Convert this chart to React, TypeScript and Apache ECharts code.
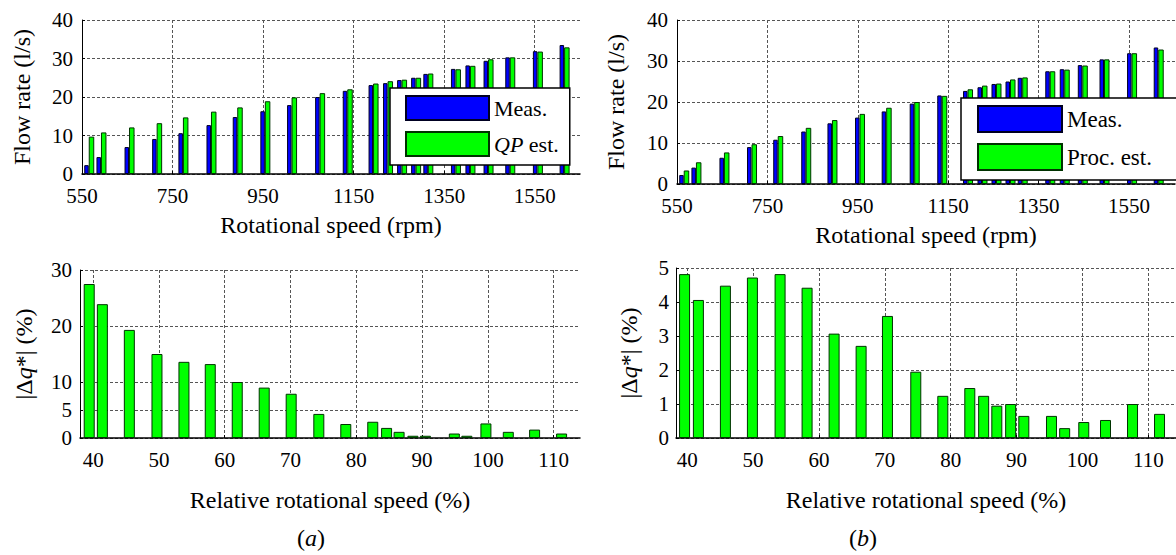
import React, { useEffect, useRef } from 'react';
import * as echarts from 'echarts';

// Rotational speeds (rpm) of the measured operating points
const rotSpeeds = [566, 593, 655, 716, 774, 836, 894, 955, 1014, 1076, 1137, 1194, 1226, 1257, 1288, 1315, 1376, 1408, 1448, 1496, 1557, 1616];

// (a) flow rates (l/s)
const measA = [2.3, 4.4, 7.0, 9.1, 10.6, 12.7, 14.8, 16.3, 17.9, 20.0, 21.6, 23.1, 23.6, 24.4, 25.0, 26.0, 27.3, 28.2, 29.4, 30.3, 31.9, 33.5];
const qpEst = [9.7, 10.8, 12.1, 13.2, 14.7, 16.2, 17.3, 18.9, 19.9, 21.0, 22.0, 23.5, 24.1, 24.5, 25.0, 26.1, 27.2, 28.1, 29.8, 30.3, 31.8, 32.9];

// (b) flow rates (l/s)
const measB = [2.2, 4.0, 6.4, 9.0, 10.8, 12.8, 14.8, 16.2, 17.7, 19.6, 21.6, 22.7, 23.6, 24.4, 25.0, 25.9, 27.5, 28.0, 29.0, 30.4, 31.9, 33.3];
const procEst = [3.3, 5.3, 7.7, 9.7, 11.7, 13.7, 15.6, 17.1, 18.6, 20.0, 21.5, 23.1, 24.0, 24.5, 25.5, 26.0, 27.5, 27.9, 28.9, 30.4, 31.9, 32.8];

// Relative rotational speeds (%)
const relSpeedA = [39.4, 41.4, 45.5, 49.7, 53.8, 57.8, 61.9, 66.0, 70.1, 74.3, 78.4, 82.5, 84.6, 86.5, 88.6, 90.5, 94.9, 96.8, 99.7, 103.1, 107.1, 111.2];
const relSpeedB = [39.6, 41.7, 45.8, 49.9, 54.1, 58.2, 62.3, 66.4, 70.4, 74.7, 78.8, 82.9, 85.0, 87.0, 89.1, 91.1, 95.3, 97.3, 100.2, 103.5, 107.6, 111.7];

// |Δq*| (%)
const errA = [27.5, 23.9, 19.3, 15.0, 13.6, 13.2, 10.0, 9.0, 7.9, 4.3, 2.5, 2.9, 1.8, 1.1, 0.4, 0.4, 0.8, 0.4, 2.6, 1.1, 1.5, 0.8];
const errB = [4.82, 4.06, 4.48, 4.72, 4.82, 4.42, 3.07, 2.71, 3.59, 1.95, 1.24, 1.47, 1.24, 0.95, 1.0, 0.65, 0.65, 0.29, 0.47, 0.53, 1.0, 0.71];

// Tick labels
const rpmTicks = [550, 750, 950, 1150, 1350, 1550];
const relTicks = [40, 50, 60, 70, 80, 90, 100, 110];
const errATicks = [0, 5, 10, 20, 30];
const errBTicks = [0, 1, 2, 3, 4, 5];
const flowTicks = [0, 10, 20, 30, 40];

const FONT = 'Liberation Serif';
const BLUE = '#0000ff';
const GREEN = '#00ff00';

const pairs = (xs: number[], ys: number[]) => xs.map((x, i) => [x, ys[i]]);

const gridLine = { show: true, lineStyle: { color: '#555', width: 1, type: [3, 2] as any } };
const tickLabel = { color: '#000', fontFamily: FONT, fontSize: 21, formatter: (v: number) => String(v) };
const italic = { fontStyle: 'italic', fontFamily: FONT, fontSize: 24, color: '#000' };
const nameStyle = {
  color: '#000',
  fontFamily: FONT,
  fontSize: 24,
  rich: { i: italic },
};

function xAxisDef(gridIndex: number, min: number, max: number, ticks: number[], name: string, nameGap: number) {
  return {
    type: 'value',
    gridIndex,
    min,
    max,
    name,
    nameLocation: 'middle',
    nameGap,
    nameTextStyle: nameStyle,
    axisLine: { show: true, onZero: false, lineStyle: { color: '#000', width: 1.5 } },
    axisTick: { show: true, inside: true, length: 3, customValues: ticks, lineStyle: { color: '#000' } },
    axisLabel: { ...tickLabel, margin: 11, customValues: ticks },
    splitLine: gridLine,
  };
}

function yAxisDef(gridIndex: number, min: number, max: number, ticks: number[], name: string, nameGap: number, margin: number) {
  return {
    type: 'value',
    gridIndex,
    min,
    max,
    name,
    nameLocation: 'middle',
    nameRotate: 90,
    nameGap,
    nameTextStyle: nameStyle,
    axisLine: { show: true, lineStyle: { color: '#000', width: 1 } },
    axisTick: { show: true, inside: true, length: 3, customValues: ticks, lineStyle: { color: '#000' } },
    axisLabel: { ...tickLabel, margin, customValues: ticks },
    splitLine: gridLine,
  };
}

const blueStyle = { color: BLUE, borderColor: '#000022', borderWidth: 1 };
const greenStyle = { color: GREEN, borderColor: '#003300', borderWidth: 1 };

const option: any = {
  animation: false,
  backgroundColor: '#fff',
  textStyle: { fontFamily: FONT },
  grid: [
    { left: 82, top: 20, width: 498, height: 154, outerBoundsMode: 'none' },
    { left: 677, top: 20, width: 498, height: 164, outerBoundsMode: 'none' },
    { left: 80, top: 270, width: 500, height: 168, outerBoundsMode: 'none' },
    { left: 676, top: 268, width: 500, height: 170, outerBoundsMode: 'none' },
  ],
  xAxis: [
    xAxisDef(0, 550, 1650, rpmTicks, 'Rotational speed (rpm)', 39),
    xAxisDef(1, 550, 1652, rpmTicks, 'Rotational speed (rpm)', 39),
    xAxisDef(2, 38, 114, relTicks, 'Relative rotational speed (%)', 50),
    xAxisDef(3, 38.3, 114.2, relTicks, 'Relative rotational speed (%)', 50),
  ],
  yAxis: [
    yAxisDef(0, 0, 40, flowTicks, 'Flow rate (l/s)', 48, 9),
    yAxisDef(1, 0, 40, flowTicks, 'Flow rate (l/s)', 49, 9),
    yAxisDef(2, 0, 30, errATicks, '|Δ{i|q}*| (%)', 44, 8),
    yAxisDef(3, 0, 5, errBTicks, '|Δ{i|q}*| (%)', 35, 7),
  ],
  legend: [
    {
      data: ['Meas.', 'QP est.'],
      left: 390,
      top: 88,
      orient: 'vertical',
      itemWidth: 83,
      itemHeight: 24,
      itemGap: 10,
      padding: [7, 11, 8, 15],
      borderColor: '#000',
      borderWidth: 1.5,
      backgroundColor: '#fff',
      selectedMode: false,
      icon: 'rect',
      textStyle: {
        color: '#000',
        fontFamily: FONT,
        fontSize: 22,
        rich: { i: { fontStyle: 'italic', fontFamily: FONT, fontSize: 22, color: '#000' } },
      },
      formatter: (n: string) => (n === 'QP est.' ? '{i|QP} est.' : n),
      z: 10,
    },
    {
      data: ['Meas.', 'Proc. est.'],
      left: 961,
      top: 98,
      orient: 'vertical',
      itemWidth: 84,
      itemHeight: 26,
      itemGap: 10,
      padding: [7, 30, 9, 16],
      borderColor: '#000',
      borderWidth: 1.5,
      backgroundColor: '#fff',
      selectedMode: false,
      icon: 'rect',
      textStyle: { color: '#000', fontFamily: FONT, fontSize: 23 },
      z: 10,
    },
  ],
  series: [
    {
      type: 'bar', name: 'Meas.', xAxisIndex: 0, yAxisIndex: 0,
      data: pairs(rotSpeeds, measA), barWidth: 4.5, barGap: '0%', itemStyle: blueStyle,
    },
    {
      type: 'bar', name: 'QP est.', xAxisIndex: 0, yAxisIndex: 0,
      data: pairs(rotSpeeds, qpEst), barWidth: 5.5, barGap: '0%', itemStyle: greenStyle,
    },
    {
      type: 'bar', name: 'Meas.', xAxisIndex: 1, yAxisIndex: 1,
      data: pairs(rotSpeeds, measB), barWidth: 4.5, barGap: '0%', itemStyle: blueStyle,
    },
    {
      type: 'bar', name: 'Proc. est.', xAxisIndex: 1, yAxisIndex: 1,
      data: pairs(rotSpeeds, procEst), barWidth: 5.5, barGap: '0%', itemStyle: greenStyle,
    },
    {
      type: 'bar', name: 'errA', xAxisIndex: 2, yAxisIndex: 2,
      data: pairs(relSpeedA, errA), barWidth: 11, itemStyle: greenStyle,
    },
    {
      type: 'bar', name: 'errB', xAxisIndex: 3, yAxisIndex: 3,
      data: pairs(relSpeedB, errB), barWidth: 11, itemStyle: greenStyle,
    },
  ],
  graphic: [
    {
      type: 'text', left: 297, top: 526,
      style: {
        text: '({i|a})', fill: '#000', fontFamily: FONT, fontSize: 24,
        rich: { i: { fontStyle: 'italic', fontFamily: FONT, fontSize: 24, fill: '#000' } },
      },
    },
    {
      type: 'text', left: 849, top: 526,
      style: {
        text: '({i|b})', fill: '#000', fontFamily: FONT, fontSize: 24,
        rich: { i: { fontStyle: 'italic', fontFamily: FONT, fontSize: 24, fill: '#000' } },
      },
    },
  ],
};

export default function App() {
  const ref = useRef<HTMLDivElement>(null);
  useEffect(() => {
    const chart = echarts.init(ref.current!, null, { renderer: 'svg' });
    chart.setOption(option);
    return () => chart.dispose();
  }, []);
  return (
    <div
      ref={ref}
      style={{ position: 'fixed', left: 0, top: 0, width: 1176, height: 555, background: '#fff' }}
    />
  );
}
